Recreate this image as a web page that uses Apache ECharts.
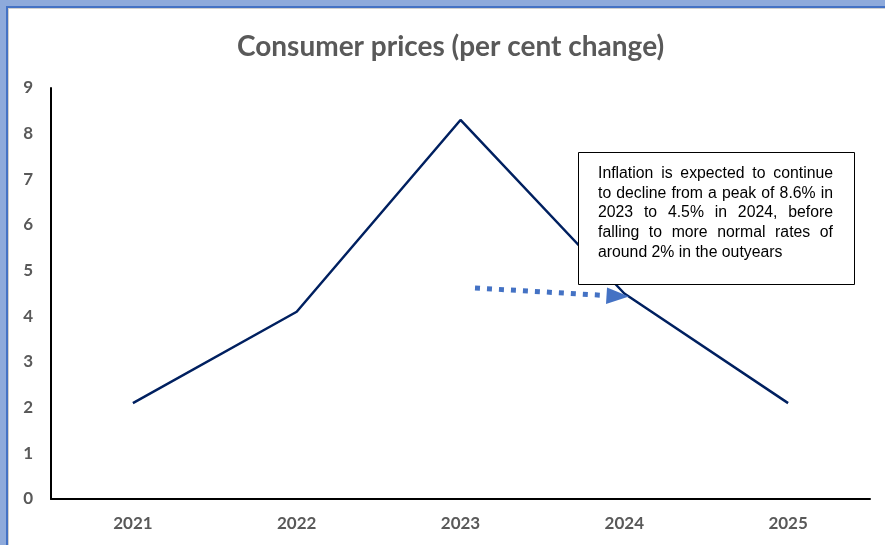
<!DOCTYPE html>
<html>
<head>
<meta charset="utf-8">
<script src="https://cdn.jsdelivr.net/npm/echarts@6/dist/echarts.min.js"></script>
<style>
  html, body { margin: 0; padding: 0; background: #fff; }
  #chart { width: 885px; height: 545px; }
</style>
</head>
<body>
<div id="chart"></div>
<script>
// chart data
const years = ['2021', '2022', '2023', '2024', '2025'];
const cpiChange = [2.1, 4.1, 8.3, 4.5, 2.1];
const yTicks = { min: 0, max: 9, interval: 1 };

const noteLines = [
  'Inflation is expected to continue',
  'to decline from a peak of 8.6% in',
  '2023 to 4.5% in 2024, before',
  'falling to more normal rates of',
  'around 2% in the outyears',
];

const labelGrey = '#595959';
const noteFont = '15.8px "Liberation Sans", Arial, sans-serif';

// justified text like the Excel text box (last line left aligned)
function buildNoteText(left, width, firstY, lineHeight) {
  const ctx = document.createElement('canvas').getContext('2d');
  ctx.font = noteFont;
  const items = [];
  const word = (text, x, y) => ({
    type: 'text',
    x: x,
    y: y,
    z: 11,
    style: { text: text, font: noteFont, fill: '#000', textVerticalAlign: 'middle' },
  });
  noteLines.forEach((line, i) => {
    const y = firstY + i * lineHeight;
    const words = line.split(' ');
    if (i === noteLines.length - 1 || words.length < 2) {
      items.push(word(line, left, y));
      return;
    }
    const total = words.reduce((s, w) => s + ctx.measureText(w).width, 0);
    const gap = (width - total) / (words.length - 1);
    let x = left;
    words.forEach((w) => {
      items.push(word(w, x, y));
      x += ctx.measureText(w).width + gap;
    });
  });
  return items;
}

const chart = echarts.init(document.getElementById('chart'));
chart.setOption({
  animation: false,
  backgroundColor: '#fff',
  title: {
    text: 'Consumer prices (per cent change)',
    left: 237,
    top: 33,
    padding: 0,
    textStyle: {
      fontFamily: 'Lato',
      fontWeight: 'bold',
      fontSize: 28,
      color: labelGrey,
    },
  },
  grid: { left: 51, right: 15, top: 88, bottom: 46 },
  xAxis: {
    type: 'category',
    data: years,
    boundaryGap: true,
    axisLine: { lineStyle: { color: '#000', width: 2 } },
    axisTick: { show: false },
    axisLabel: {
      margin: 16,
      fontFamily: 'Lato',
      fontWeight: 'bold',
      fontSize: 17,
      color: labelGrey,
    },
  },
  yAxis: {
    type: 'value',
    min: yTicks.min,
    max: yTicks.max,
    interval: yTicks.interval,
    splitLine: { show: false },
    axisLine: { show: true, lineStyle: { color: '#000', width: 2 } },
    axisTick: { show: false },
    axisLabel: {
      margin: 18,
      fontFamily: 'Lato',
      fontWeight: 'bold',
      fontSize: 17,
      color: labelGrey,
    },
  },
  series: [
    {
      type: 'line',
      data: cpiChange,
      symbol: 'none',
      lineStyle: { color: '#002060', width: 2.5 },
      z: 3,
    },
  ],
  graphic: [
    // window frame on top and left edge
    { type: 'rect', shape: { x: 0, y: 0, width: 885, height: 6 }, style: { fill: '#8eaadb' }, z: 100 },
    { type: 'rect', shape: { x: 0, y: 0, width: 6, height: 545 }, style: { fill: '#8eaadb' }, z: 100 },
    { type: 'rect', shape: { x: 6, y: 6, width: 879, height: 2 }, style: { fill: '#4472c4' }, z: 100 },
    { type: 'rect', shape: { x: 6, y: 6, width: 2, height: 539 }, style: { fill: '#4472c4' }, z: 100 },
    { type: 'rect', shape: { x: 8, y: 8, width: 877, height: 1 }, style: { fill: '#d0d0d0' }, z: 100 },
    { type: 'rect', shape: { x: 8, y: 8, width: 1, height: 537 }, style: { fill: '#d0d0d0' }, z: 100 },
    // annotation box
    {
      type: 'rect',
      shape: { x: 578.5, y: 152.5, width: 276, height: 132 },
      style: { fill: '#fff', stroke: '#000', lineWidth: 1 },
      z: 10,
    },
    ...buildNoteText(598, 235, 173.5, 19.7),
    // dotted arrow
    {
      type: 'line',
      shape: { x1: 475, y1: 288, x2: 606, y2: 295.5 },
      style: { stroke: '#4472c4', lineWidth: 5, lineDash: [5, 7] },
      z: 12,
    },
    {
      type: 'polygon',
      shape: { points: [[607, 287.5], [629, 296.5], [606, 304]] },
      style: { fill: '#4472c4' },
      z: 12,
    },
  ],
});
</script>
</body>
</html>
